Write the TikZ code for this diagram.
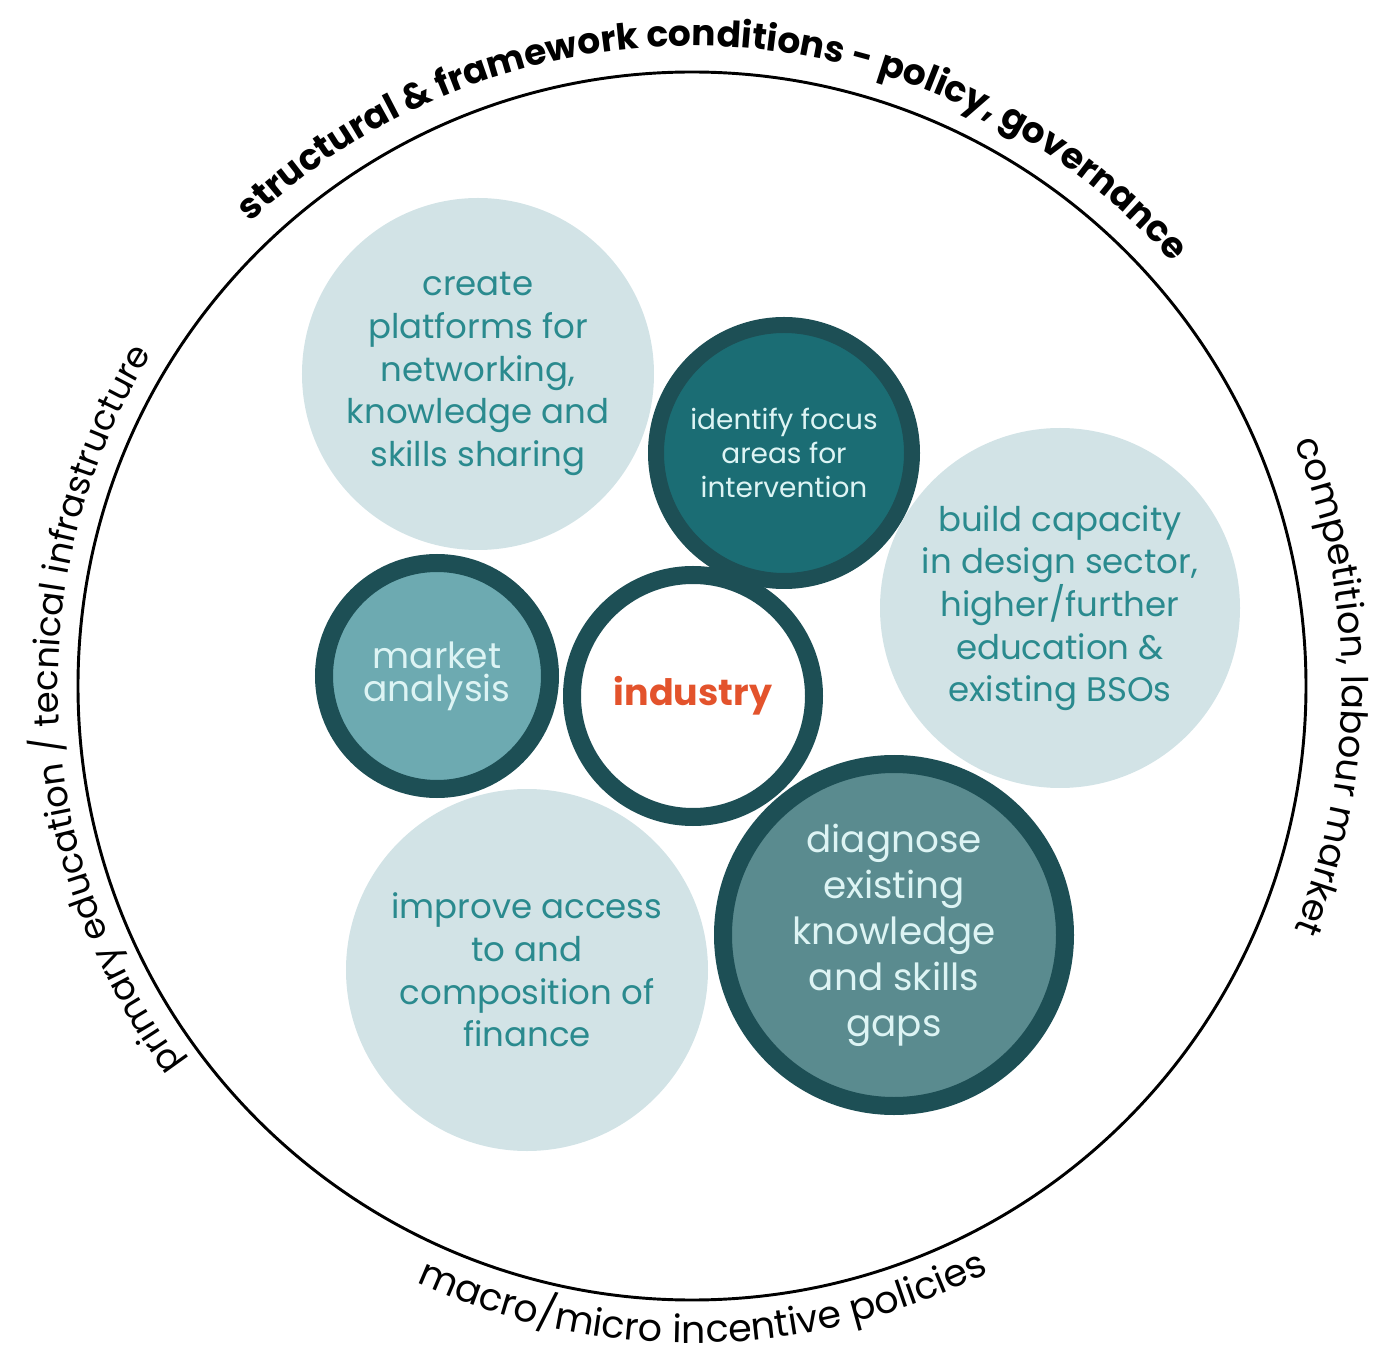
\documentclass[tikz,border=0pt]{standalone}
\usepackage{fontspec}
\setmainfont{Poppins}
\usetikzlibrary{decorations.text}

\definecolor{discLight}{HTML}{D2E3E6}
\definecolor{textTeal}{HTML}{2A8A8E}
\definecolor{ringDark}{HTML}{1D4F55}
\definecolor{focusFill}{HTML}{1B6D74}
\definecolor{marketFill}{HTML}{6DAAB1}
\definecolor{gapsFill}{HTML}{5A8B8F}
\definecolor{paleText}{HTML}{DDF4F4}
\definecolor{industryRed}{HTML}{E3532C}

\tikzset{
  disc/.style={circle, inner sep=0pt, align=center},
  softdisc/.style={disc, fill=discLight, text=textTeal, font=\fontsize{25.5}{32}\selectfont},
  ringdisc/.style={disc, draw=ringDark, line width=13.5pt, text=paleText},
  rimtext/.style={decorate, decoration={text along path, text align=center, text={#1}}},
}

\begin{document}
\begin{tikzpicture}[x=0.75pt,y=0.75pt]
\useasboundingbox (-692,-669) rectangle (691,686);

%Shape: outer ring
\draw[line width=2.2pt] (0,0) circle[radius=614];

%Curved labels round the ring
\path[rimtext={|\bfseries\fontsize{27}{30}\selectfont|structural {\&} framework conditions - policy, governance}] (150:640) arc[start angle=150, end angle=25, radius=640];
\path[rimtext={|\fontsize{26.5}{30}\selectfont|primary education / tecnical infrastructure}] (225:634) arc[start angle=225, end angle=140, radius=634];
\path[rimtext={|\fontsize{27.5}{30}\selectfont|competition, labour market}] (30:650) arc[start angle=30, end angle=-30, radius=650];
\path[rimtext={|\fontsize{28.5}{30}\selectfont|macro/micro incentive policies}] (231:657) arc[start angle=231, end angle=311, radius=657];

%Pale discs
\node[softdisc, minimum size=264pt] (create) at (-214,312) {create\\platforms for\\networking,\\knowledge and\\skills sharing};
\node[softdisc, minimum size=270pt] (capacity) at (368,78) {build capacity\\in design sector,\\higher/further\\education \&\\existing BSOs};
\node[softdisc, minimum size=271.5pt] (finance) at (-165,-284) {improve access\\to and\\composition of\\finance};

%Ringed discs
\node[ringdisc, line width=12pt, fill=focusFill, minimum size=192pt, font=\fontsize{21}{25.5}\selectfont] (focus) at (92,233) {identify focus\\areas for\\intervention};
\node[ringdisc, fill=marketFill, minimum size=169.5pt, font=\fontsize{27}{25}\selectfont] (market) at (-255,10) {market\\analysis};
\node[ringdisc, fill=white, minimum size=181.5pt, text=industryRed, font=\bfseries\fontsize{27.3}{30}\selectfont] (industry) at (1,-10) {industry};
\node[ringdisc, fill=gapsFill, minimum size=256.5pt, font=\fontsize{28}{34.5}\selectfont] (gaps) at (202,-249) {diagnose\\existing\\knowledge\\and skills\\gaps};

\end{tikzpicture}
\end{document}
